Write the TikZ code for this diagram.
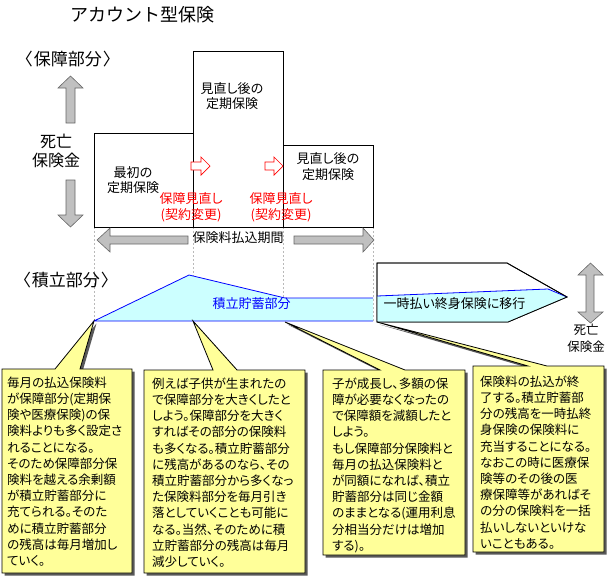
\documentclass[tikz,border=0pt]{standalone}
\usepackage{fontspec}
\setmainfont{Noto Sans CJK JP}[CharacterWidth=AlternateProportional]
\newfontfamily\fullfont{Noto Sans CJK JP}
\usetikzlibrary{shadows}
\definecolor{callfill}{HTML}{FFFF99}
\definecolor{poolfill}{HTML}{CCFFFF}
\definecolor{arrowgray}{HTML}{C0C0C0}
\begin{document}
\begin{tikzpicture}[x=1pt,y=-1pt,
  plan/.style={draw=black,line width=0.8pt,fill=white},
  guide/.style={draw=gray!55,line width=0.6pt,dash pattern=on 2pt off 2pt},
  blockarrow/.style={draw=black!60,line width=0.6pt,fill=arrowgray},
  turnarrow/.style={draw=red,line width=0.7pt,fill=white},
  callout/.style={draw=black,line width=0.8pt,fill=callfill,drop shadow={shadow xshift=2.5pt,shadow yshift=-2.5pt,fill=black!65,opacity=1}},
  headtext/.style={font=\fullfont\fontsize{16}{19}\selectfont,align=center,inner sep=0pt},
  parttext/.style={font=\fullfont\fontsize{17}{19}\selectfont,inner sep=0pt},
  boxtext/.style={font=\fontsize{13}{15.5}\selectfont,align=center,inner sep=0pt},
  notetext/.style={font=\fontsize{12.5}{16.2}\selectfont,align=left,inner sep=0pt,anchor=north west}]
\useasboundingbox (0,0) rectangle (607,576);
\coordinate (p0) at ( 94, 321);
\coordinate (p1) at (189, 275);
\coordinate (p2) at (285, 298);
\coordinate (p3) at (373, 298);
\coordinate (p4) at (373, 321);
\coordinate (t2) at (193, 321);
\coordinate (t3) at (285, 322);
\coordinate (t4) at (377, 322);
\draw[guide] ( 94, 227) -- ( 94, 321);
\draw[guide] (193, 227) -- (193, 321);
\draw[guide] (283, 227) -- (283, 321);
\draw[guide] (373, 227) -- (373, 321);
\node[headtext,font=\fullfont\fontsize{18}{20}\selectfont] (title) at (142.5, 15) {アカウント型保険};
\node[parttext] (hosho) at (68, 59) {〈\kern1pt 保障部分\kern1pt 〉};
\node[parttext] (tsumitate) at (66, 280) {〈\kern1pt 積立部分\kern1pt 〉};
\node[headtext] (shibo) at (56, 151) {死亡\\保険金};
\draw[blockarrow] (70.5, 76) -- (83, 88) -- (75, 88) -- (75, 123) -- (66, 123) -- (66, 88) -- (58, 88) -- cycle;
\draw[blockarrow] (66, 180) -- (75, 180) -- (75, 215) -- (83, 215) -- (70.5, 227) -- (58, 215) -- (66, 215) -- cycle;
\draw[plan] ( 94, 133) rectangle (193, 227);
\draw[plan] (193,  51) rectangle (283, 227);
\draw[plan] (283, 145) rectangle (373, 227);
\node[boxtext] (first) at (133, 180) {最初の\\定期保険};
\node[boxtext] (second) at (232, 96) {見直し後の\\定期保険};
\node[boxtext] (third) at (328, 166.5) {見直し後の\\定期保険};
\draw[turnarrow] (191, 162) -- (201, 162) -- (201, 157) -- (210, 166) -- (201, 175) -- (201, 170) -- (191, 170) -- cycle;
\draw[turnarrow] (265, 162) -- (274, 162) -- (274, 157) -- (283, 166) -- (274, 175) -- (274, 170) -- (265, 170) -- cycle;
\node[boxtext,text=red] (revise1) at (191, 207.5) {保障見直し\\(契約変更)};
\node[boxtext,text=red] (revise2) at (281, 207.5) {保障見直し\\(契約変更)};
\draw[blockarrow] ( 97, 240) -- (110, 228) -- (110, 236) -- (188, 236) -- (188, 244) -- (110, 244) -- (110, 252) -- cycle;
\draw[blockarrow] (294, 236) -- (363, 236) -- (363, 228) -- (374, 240) -- (363, 252) -- (363, 244) -- (294, 244) -- cycle;
\node[boxtext] (period) at (238, 238) {保険料払込期間};
\fill[poolfill] (p0) -- (p1) -- (p2) -- (p3) -- (p4) -- cycle;
\draw[blue,line width=0.8pt] (p3) -- (p2) -- (p1) -- (p0) -- (p4);
\node[boxtext,text=blue] (pool) at (251.5, 304) {積立貯蓄部分};
\draw[plan] (377, 263) -- (507, 263) -- (567, 297) -- (508, 322) -- (377, 322) -- cycle;
\fill[poolfill] (377, 296) -- (548, 289) -- (567, 297) -- (508, 322) -- (377, 322) -- cycle;
\draw[blue,line width=0.8pt] (377, 296) -- (548, 289) -- (567, 297);
\draw[black,line width=0.8pt] (377, 263) -- (507, 263) -- (567, 297) -- (508, 322) -- (377, 322) -- cycle;
\node[boxtext] (lump) at (454.5, 304) {一時払い終身保険に移行};
\draw[blockarrow] (590.5, 263) -- (603, 275) -- (594, 275) -- (594, 312) -- (603, 312) -- (590.5, 323) -- (578, 312) -- (586, 312) -- (586, 275) -- (578, 275) -- cycle;
\node[boxtext,font=\fontsize{12.5}{17}\selectfont] (shibo2) at (586, 338.5) {死亡\\保険金};
\draw[callout] (  2, 369) -- ( 55, 369) -- (p0) -- ( 80, 369) -- (132, 369) -- (132, 573) -- (  2, 573) -- cycle;
\draw[callout] (144, 370) -- (213, 370) -- (t2) -- (237, 370) -- (305, 370) -- (305, 573) -- (144, 573) -- cycle;
\draw[callout] (323, 370) -- (380, 370) -- (t3) -- (405, 370) -- (465, 370) -- (465, 555) -- (323, 555) -- cycle;
\draw[callout] (473, 366) -- (528, 366) -- (t4) -- (547, 366) -- (604, 366) -- (604, 552) -- (473, 552) -- cycle;
\node[notetext] (note1) at (7, 376.5) {毎月の払込保険料\\が保障部分(定期保\\険や医療保険)の保\\険料よりも多く設定さ\\れることになる。\\そのため保障部分保\\険料を越える余剰額\\が積立貯蓄部分に\\充てられる。そのた\\めに積立貯蓄部分\\の残高は毎月増加し\\ていく。};
\node[notetext] (note2) at (152, 377.5) {例えば子供が生まれたの\\で保障部分を大きくしたと\\しよう。保障部分を大きく\\すればその部分の保険料\\も多くなる。積立貯蓄部分\\に残高があるのなら、その\\積立貯蓄部分から多くなっ\\た保険料部分を毎月引き\\落としていくことも可能に\\なる。当然、そのために積\\立貯蓄部分の残高は毎月\\減少していく。};
\node[notetext] (note3) at (332, 377.5) {子が成長し、多額の保\\障が必要なくなったの\\で保障額を減額したと\\しよう。\\もし保障部分保険料と\\毎月の払込保険料と\\が同額になれば、積立\\貯蓄部分は同じ金額\\のままとなる(運用利息\\分相当分だけは増加\\する)。};
\node[notetext] (note4) at (480, 375.5) {保険料の払込が終\\了する。積立貯蓄部\\分の残高を一時払終\\身保険の保険料に\\充当することになる。\\なおこの時に医療保\\険等のその後の医\\療保障等があればそ\\の分の保険料を一括\\払いしないといけな\\いこともある。};
\end{tikzpicture}
\end{document}
